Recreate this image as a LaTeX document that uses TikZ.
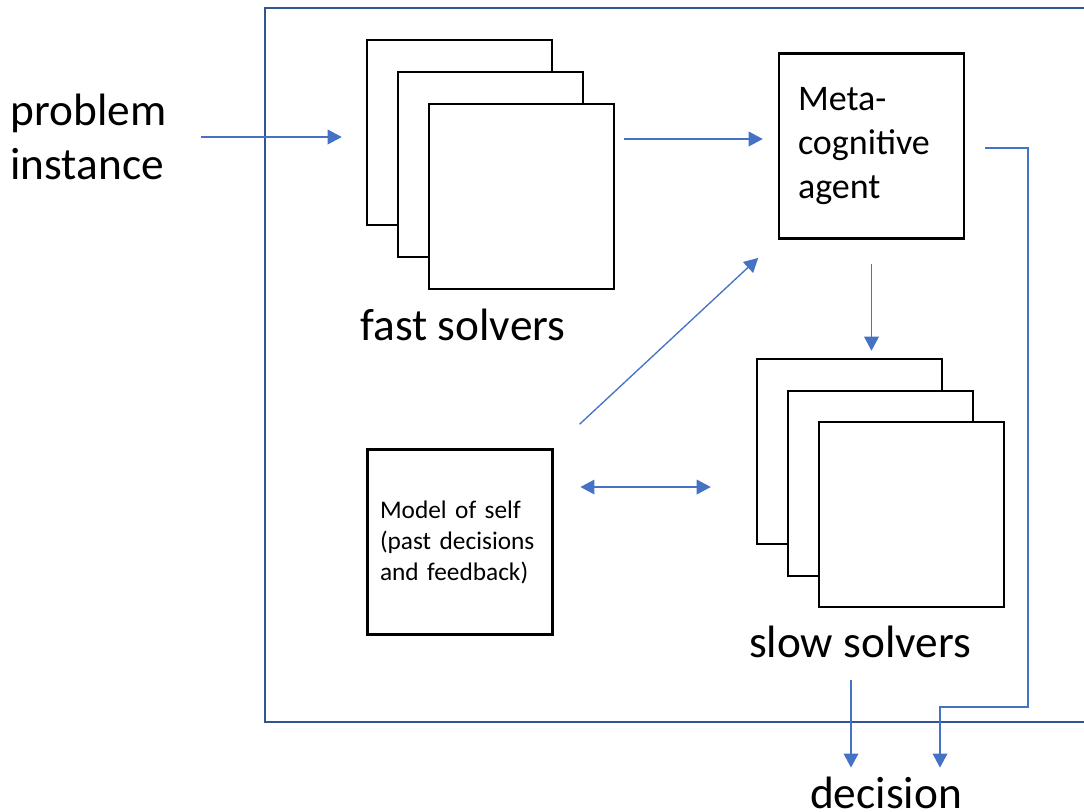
\documentclass[tikz,border=0pt]{standalone}
\usepackage{fontspec}
\setmainfont{Carlito}
\usetikzlibrary{arrows.meta,calc}
\definecolor{arrowblue}{RGB}{68,114,196}
\definecolor{frameblue}{RGB}{47,85,151}
\tikzset{every picture/.style={line width=0.75pt}}
\tikzset{
  solver/.style={draw=black, line width=1.9pt, fill=white, minimum width=138.75pt, minimum height=138.75pt, inner sep=0pt},
  bigtext/.style={font=\fontsize{34}{40}\selectfont, inner sep=0pt},
  flow/.style={draw=arrowblue, line width=1pt, -{Triangle[length=10.5pt,width=11pt]}},
  twoway/.style={flow, {Triangle[length=10.5pt,width=11pt]}-{Triangle[length=10.5pt,width=11pt]}}
}

\begin{document}
\begin{tikzpicture}[x=0.75pt,y=0.75pt,yscale=-1,xscale=1]
\useasboundingbox (0,0) rectangle (1084,811);

%Shape: Frame
\draw [frameblue, line width=2pt] (1100,8) -- (265,8) -- (265,722) -- (1100,722) ;

%Shape: Rectangle stack (fast)
\node [solver] (fastA) at (459.5,132.5) {};
\node [solver] (fastB) at (490.5,164.5) {};
\node [solver] (fastC) at (521.5,196.5) {};
%Shape: Rectangle stack (slow)
\node [solver] (slowA) at (849.5,451.5) {};
\node [solver] (slowB) at (880.5,483.5) {};
\node [solver] (slowC) at (911.5,514.5) {};
%Shape: Rectangle
\node [solver, align=left, text width=110.25pt, inner xsep=14.25pt, font=\fontsize{27}{33}\selectfont] (meta) at (871.5,146) {Meta-\\cognitive\\agent};
%Shape: Rectangle
\node [solver, align=left, text width=120pt, inner xsep=9.4pt, font=\fontsize{19}{23.25}\selectfont] (model) at (460,542) {Model of self\\(past decisions\\and feedback)};

% Text Node
\node [bigtext, anchor=west, align=left] (problem) at (10,137) {problem\\instance};
% Text Node
\node [bigtext] (fastlbl) at (463,325) {fast solvers};
% Text Node
\node [bigtext] (slowlbl) at (860,642) {slow solvers};
% Text Node
\node [bigtext] (decision) at (886,793) {decision};

\coordinate (metain) at ($(meta.west)+(0,-7)$);
\coordinate (modelout) at ($(model.east)+(0,-55)$);
\coordinate (slowout) at ($(slowlbl.south)+(-9,0)$);
\coordinate (metaout) at ($(meta.east)+(20,2)$);
\coordinate (bend) at (1028,707);
\coordinate (drop) at (940,707);

% Connectors
\draw [flow, shorten <=26pt, shorten >=18pt] (problem.east) -- (problem.east -| fastA.west) ;
\draw [flow, shorten <=6.75pt, shorten >=11.25pt] (fastC.east |- metain) -- (metain) ;
\draw [flow, shorten <=18pt, shorten >=5.25pt] (meta.south) -- (meta.south |- slowA.north) ;
\draw [flow, shorten <=26.5pt, shorten >=20pt] (model.north east) -- (meta.south west) ;
\draw [twoway, shorten <=20pt, shorten >=33.75pt] (modelout) -- (modelout -| slowA.west) ;
\draw [flow, shorten <=16.5pt, shorten >=6.75pt] (slowout) -- (slowout |- decision.north) ;
\draw [flow, shorten >=6.75pt] (metaout) -| (bend) -- (drop) -- (drop |- decision.north) ;

\end{tikzpicture}
\end{document}
